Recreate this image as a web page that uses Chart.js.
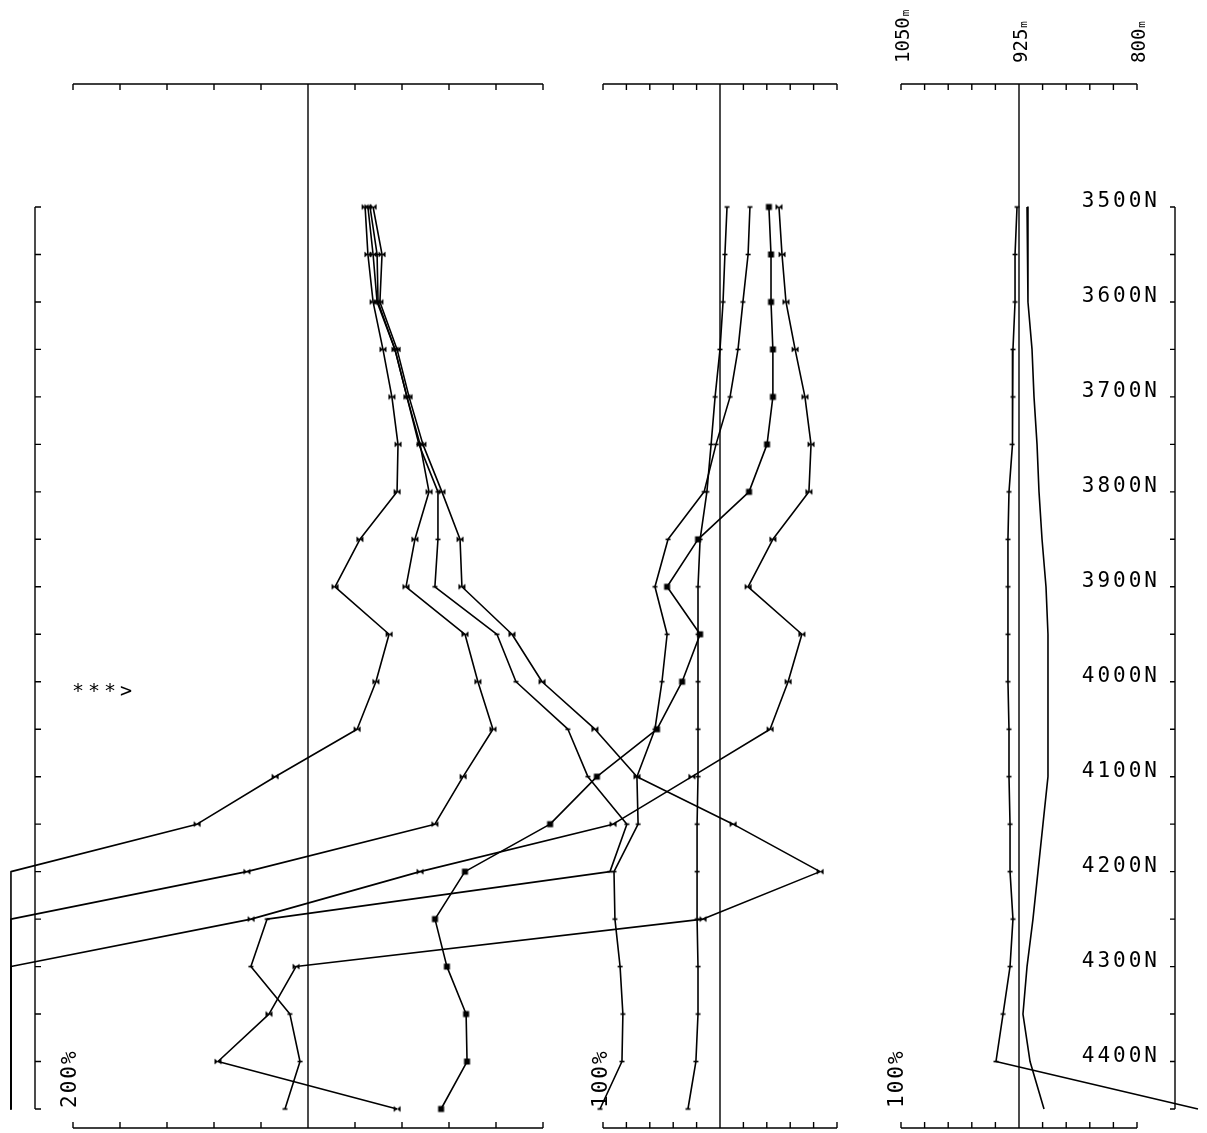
<!DOCTYPE html>
<html>
<head>
<meta charset="utf-8">
<script src="https://cdn.jsdelivr.net/npm/chart.js@4.4.1/dist/chart.umd.min.js"></script>
<style>
  html, body { margin: 0; padding: 0; background: #fff; }
  #wrap { position: relative; width: 1207px; height: 1133px; overflow: hidden; }
  #wrap canvas { position: absolute; left: 0; top: 0; }
</style>
</head>
<body>
<div id="wrap">
  <canvas id="leftPanel" width="1207" height="1133"></canvas>
  <canvas id="midPanel" width="1207" height="1133"></canvas>
  <canvas id="rightPanel" width="1207" height="1133"></canvas>
</div>
<script>
// stations along the line, every 50N
const stations = [3500, 3550, 3600, 3650, 3700, 3750, 3800, 3850, 3900, 3950,
                  4000, 4050, 4100, 4150, 4200, 4250, 4300, 4350, 4400, 4450];
const northValues = [3500, 3600, 3700, 3800, 3900, 4000, 4100, 4200, 4300, 4400];
const northLabels = ['3500N', '3600N', '3700N', '3800N', '3900N', '4000N', '4100N', '4200N', '4300N', '4400N'];
const elevValues = [1050, 925, 800];
const elevLabels = ['1050', '925', '800'];

// values the plotter pinned to the sheet edge (off scale)
const LEFT_EDGE = -126.4, MID_EDGE = -303.0, RIGHT_EDGE = 735.4;

// left panel, percent (200% full scale)
const leftA = [24.3, 25.5, 27.7, 31.9, 35.7, 38.3, 37.9, 22.1, 11.5, 34.5, 28.9, 20.9, -14.0, -47.2, -126.4, -126.4, -126.4, -126.4, -126.4, -126.4];
const leftB = [25.5, 27.7, 29.4, 37.0, 42.1, 47.7, 51.5, 45.5, 41.7, 66.8, 72.3, 78.7, 66.0, 54.0, -26.0, -126.4, -126.4, -126.4, -126.4, -126.4];
const leftC = [26.4, 29.4, 29.8, 37.0, 42.1, 47.2, 55.3, 55.3, 54.0, 80.4, 88.5, 110.6, 119.1, 135.7, 128.5, -17.4, -24.3, -7.7, -3.4, -9.8];
const leftD = [27.7, 31.5, 30.6, 37.9, 43.0, 48.9, 57.0, 64.7, 65.5, 86.8, 99.6, 122.1, 140.0, 180.9, 217.9, 168.1, -5.1, -16.6, -38.3, 37.9];

// middle panel, percent (100% full scale)
const midE = [3.0, 2.1, 1.3, 0, -2.1, -3.8, -5.6, -8.5, -9.4, -9.4, -9.4, -9.4, -9.4, -9.8, -9.8, -9.8, -9.4, -9.4, -10.3, -13.7];
const midF = [12.8, 12.0, 9.8, 7.7, 4.3, -1.7, -6.8, -22.2, -27.8, -22.6, -24.8, -27.8, -35.5, -35.0, -45.3, -44.9, -42.7, -41.5, -41.9, -51.3];
const midG = [20.9, 21.8, 21.8, 22.6, 22.6, 20.1, 12.4, -9.4, -22.6, -8.5, -16.2, -26.9, -52.6, -72.6, -109.0, -121.8, -116.7, -108.5, -108.1, -119.2];
const midH = [25.2, 26.5, 28.2, 32.1, 36.3, 38.9, 38.0, 22.6, 12.0, 35.0, 29.1, 21.4, -12.0, -45.7, -128.2, -200.4, -303.0, -303.0, -303.0, -303.0];

// right panel, elevation in metres (1050m left .. 800m right)
const elevR1 = [927.1, 929.2, 929.2, 931.4, 931.4, 932.4, 935.6, 936.7, 936.7, 936.7, 936.7, 935.6, 935.6, 934.5, 934.5, 931.4, 934.5, 941.9, 949.4, 735.4];
const elevR2 = [916.5, 915.5, 915.5, 911.2, 909.1, 905.9, 903.8, 900.6, 896.4, 894.3, 894.3, 894.3, 894.3, 899.6, 904.9, 910.2, 916.5, 920.8, 913.3, 898.5];

const INK = '#000';
const MONO = '"DejaVu Sans Mono", "Liberation Mono", monospace';
const W = 1207, H = 1133;
const AXIS_TOP = 84, AXIS_BOTTOM = 1128;
// station scale: 3500N sits at y=207, 4450N at y=1109
const Y_PX = [207, 1109];

// little plotter symbols
function marker(kind) {
  const c = document.createElement('canvas');
  c.width = 9; c.height = 9;
  const g = c.getContext('2d');
  g.translate(4.5, 4.5);
  g.fillStyle = INK;
  if (kind === 'square') {
    g.fillRect(-3, -3, 6, 6);
  } else if (kind === 'bowtie') {
    g.beginPath();
    g.moveTo(-3.5, -3); g.lineTo(-3.5, 3); g.lineTo(3.5, -3); g.lineTo(3.5, 3);
    g.closePath(); g.fill();
  } else {
    g.fillRect(-2.5, -0.8, 5, 1.6);
  }
  return c;
}
const mk = { square: marker('square'), bowtie: marker('bowtie'), tick: marker('tick') };

function series(values, style, edge) {
  return {
    data: stations.map((n, i) => ({ x: values[i], y: n })),
    showLine: true,
    borderColor: INK,
    borderWidth: 1.6,
    pointStyle: style ? mk[style] : false,
    // no symbol where the pen was pinned to the edge
    pointRadius: c => (!style || values[c.dataIndex] === edge) ? 0 : 4,
    tension: 0
  };
}

// stretch a value range known at two pixel positions so the scale covers the whole sheet
function fullRange(v0, v1, p0, p1, size) {
  const k = (v1 - v0) / (p1 - p0);
  return [v0 - p0 * k, v0 + (size - p0) * k];
}

function vtext(ctx, txt, x, y, font, spacing) {
  ctx.save();
  ctx.translate(x, y);
  ctx.rotate(-Math.PI / 2);
  ctx.font = font;
  ctx.letterSpacing = spacing || '0px';
  ctx.textAlign = 'left';
  ctx.textBaseline = 'alphabetic';
  ctx.fillText(txt, 0, 0);
  const w = ctx.measureText(txt).width;
  ctx.restore();
  return w;
}

// frame: top/bottom scales with inward ticks and a centre line
function framePlugin(panel, extra) {
  return {
    id: 'frame',
    beforeDatasetsDraw(chart) {
      const { ctx, scales: { x, y } } = chart;
      const l = x.getPixelForValue(panel.lo), r = x.getPixelForValue(panel.hi);
      ctx.save();
      ctx.strokeStyle = INK;
      ctx.fillStyle = INK;
      ctx.lineWidth = 1.4;
      ctx.beginPath();
      ctx.moveTo(l, AXIS_TOP); ctx.lineTo(r, AXIS_TOP);
      ctx.moveTo(l, AXIS_BOTTOM); ctx.lineTo(r, AXIS_BOTTOM);
      const n = Math.round(Math.abs(panel.hi - panel.lo) / panel.step);
      for (let i = 0; i <= n; i++) {
        const px = x.getPixelForValue(panel.lo + Math.sign(panel.hi - panel.lo) * i * panel.step);
        ctx.moveTo(px, AXIS_TOP); ctx.lineTo(px, AXIS_TOP + 6);
        ctx.moveTo(px, AXIS_BOTTOM); ctx.lineTo(px, AXIS_BOTTOM - 6);
      }
      const cx = x.getPixelForValue(panel.center);
      ctx.moveTo(cx, AXIS_TOP); ctx.lineTo(cx, AXIS_BOTTOM);
      ctx.stroke();
      if (extra) extra(ctx, x, y);
      ctx.restore();
    }
  };
}

function makeChart(id, datasets, panel, pxRange, extra) {
  const [xmin, xmax] = fullRange(panel.lo, panel.hi, pxRange[0], pxRange[1], W);
  const [ymin, ymax] = fullRange(stations[0], stations[stations.length - 1], Y_PX[0], Y_PX[1], H);
  return new Chart(document.getElementById(id), {
    type: 'scatter',
    data: { datasets },
    options: {
      responsive: false,
      animation: false,
      devicePixelRatio: 1,
      layout: { padding: 0, autoPadding: false },
      plugins: { legend: { display: false }, tooltip: { enabled: false } },
      elements: { line: { borderJoinStyle: 'round' } },
      scales: {
        x: { type: 'linear', display: false, min: Math.min(xmin, xmax), max: Math.max(xmin, xmax), reverse: xmin > xmax },
        y: { type: 'linear', display: false, min: ymin, max: ymax, reverse: true }
      }
    },
    plugins: [framePlugin(panel, extra)]
  });
}

// left panel
makeChart('leftPanel',
  [series(leftA, 'bowtie', LEFT_EDGE), series(leftB, 'bowtie', LEFT_EDGE),
   series(leftC, 'tick', LEFT_EDGE), series(leftD, 'bowtie', LEFT_EDGE)],
  { lo: -100, hi: 100, step: 20, center: 0 }, [73, 543],
  (ctx, x, y) => {
    // station axis on the far left, ticks pointing right
    const ax = 35;
    ctx.beginPath();
    ctx.moveTo(ax, y.getPixelForValue(stations[0]));
    ctx.lineTo(ax, y.getPixelForValue(stations[stations.length - 1]));
    stations.forEach(n => {
      const py = y.getPixelForValue(n);
      ctx.moveTo(ax, py); ctx.lineTo(ax + 6, py);
    });
    ctx.stroke();
    vtext(ctx, '200%', 76, 1108, '21px ' + MONO, '2px');
    ctx.font = '20px ' + MONO;
    ctx.letterSpacing = '4px';
    ctx.fillText('***>', 72, 697);
  });

// middle panel
makeChart('midPanel',
  [series(midE, 'tick', MID_EDGE), series(midF, 'tick', MID_EDGE),
   series(midG, 'square', MID_EDGE), series(midH, 'bowtie', MID_EDGE)],
  { lo: -50, hi: 50, step: 10, center: 0 }, [603, 837],
  (ctx) => {
    vtext(ctx, '100%', 607, 1108, '21px ' + MONO, '2px');
  });

// right panel (elevation)
makeChart('rightPanel',
  [series(elevR1, 'tick', RIGHT_EDGE), series(elevR2, null, RIGHT_EDGE)],
  { lo: 1050, hi: 800, step: 25, center: 925 }, [901, 1137],
  (ctx, x, y) => {
    const ax = 1175;
    ctx.beginPath();
    ctx.moveTo(ax, y.getPixelForValue(stations[0]));
    ctx.lineTo(ax, y.getPixelForValue(stations[stations.length - 1]));
    stations.forEach(n => {
      const py = y.getPixelForValue(n);
      ctx.moveTo(ax, py); ctx.lineTo(ax - 5, py);
    });
    ctx.stroke();
    ctx.font = '21px ' + MONO;
    ctx.letterSpacing = '3px';
    ctx.textAlign = 'right';
    ctx.textBaseline = 'alphabetic';
    northValues.forEach((n, i) => {
      ctx.fillText(northLabels[i], 1160, y.getPixelForValue(n));
    });
    ctx.textAlign = 'left';
    elevValues.forEach((v, i) => {
      const px = x.getPixelForValue(v) + 8;
      const w = vtext(ctx, elevLabels[i], px, 63, '19px ' + MONO, '0px');
      vtext(ctx, 'm', px, 63 - w - 1, '11px ' + MONO, '0px');
    });
    vtext(ctx, '100%', 903, 1108, '21px ' + MONO, '2px');
  });
</script>
</body>
</html>
